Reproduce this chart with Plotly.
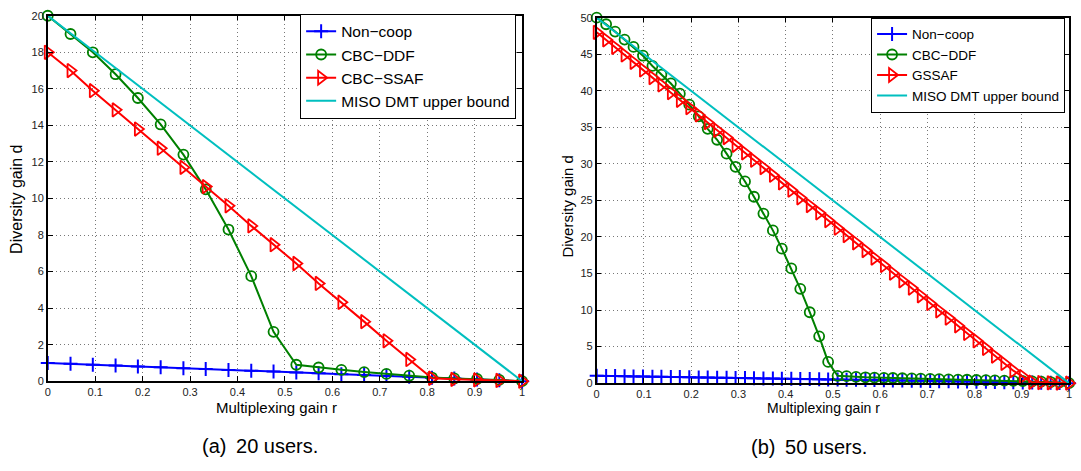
import plotly.graph_objects as go

# ---------------- data: (a) 20 users ----------------
r_a = [0, 0.048, 0.095, 0.143, 0.190, 0.238, 0.286, 0.333, 0.381, 0.429, 0.476,
       0.524, 0.571, 0.619, 0.667, 0.714, 0.762, 0.810, 0.857, 0.905, 0.952, 1.0]
noncoop_a = [1.0, 0.952, 0.905, 0.857, 0.810, 0.762, 0.714, 0.667, 0.619, 0.571, 0.524,
             0.476, 0.429, 0.381, 0.333, 0.286, 0.238, 0.190, 0.143, 0.095, 0.048, 0.0]
ddf_a = [20.0, 19.0, 18.0, 16.8, 15.5, 14.05, 12.4, 10.5, 8.3, 5.75, 2.7,
         0.9, 0.75, 0.62, 0.5, 0.4, 0.3, 0.2, 0.15, 0.12, 0.07, 0.0]
ssaf_a = [18.0, 17.0, 15.9, 14.85, 13.8, 12.75, 11.7, 10.65, 9.6, 8.5, 7.47,
          6.44, 5.35, 4.32, 3.26, 2.21, 1.19, 0.16, 0.1, 0.07, 0.04, 0.0]
ub_r_a = [0, 1]
ub_a = [20, 0]

# ---------------- data: (b) 50 users ----------------
r_b = [0, 0.020, 0.039, 0.059, 0.078, 0.098, 0.118, 0.137, 0.157, 0.176, 0.196,
       0.216, 0.235, 0.255, 0.275, 0.294, 0.314, 0.333, 0.353, 0.373, 0.392,
       0.412, 0.431, 0.451, 0.471, 0.490, 0.510, 0.529, 0.549, 0.569, 0.588,
       0.608, 0.627, 0.647, 0.667, 0.686, 0.706, 0.725, 0.745, 0.765, 0.784,
       0.804, 0.824, 0.843, 0.863, 0.882, 0.902, 0.922, 0.941, 0.961, 0.980, 1.0]
noncoop_b = [1.0, 0.98, 0.961, 0.941, 0.922, 0.902, 0.882, 0.863, 0.843, 0.824, 0.804,
             0.784, 0.765, 0.745, 0.725, 0.706, 0.686, 0.667, 0.647, 0.627, 0.608,
             0.588, 0.569, 0.549, 0.529, 0.51, 0.49, 0.471, 0.451, 0.431, 0.412,
             0.392, 0.373, 0.353, 0.333, 0.314, 0.294, 0.275, 0.255, 0.235, 0.216,
             0.196, 0.176, 0.157, 0.137, 0.118, 0.098, 0.078, 0.059, 0.039, 0.02, 0.0]
ddf_b = [50.0, 49.1, 48.1, 47.0, 46.0, 44.8, 43.4, 42.2, 41.0, 39.6, 38.1,
         36.5, 34.8, 33.3, 31.4, 29.6, 27.6, 25.5, 23.2, 20.9, 18.4,
         15.7, 12.9, 9.7, 6.4, 2.9, 1.0, 0.95, 0.85, 0.8, 0.76,
         0.73, 0.7, 0.67, 0.64, 0.61, 0.58, 0.55, 0.52, 0.49, 0.46,
         0.43, 0.4, 0.37, 0.34, 0.31, 0.28, 0.24, 0.2, 0.15, 0.1, 0.0]
gssaf_b = [48.0, 46.97, 45.94, 44.9, 43.9, 42.85, 41.8, 40.8, 39.75, 38.7, 37.7,
           36.7, 35.65, 34.6, 33.6, 32.55, 31.5, 30.5, 29.5, 28.45, 27.4,
           26.4, 25.35, 24.3, 23.3, 22.25, 21.2, 20.2, 19.2, 18.15, 17.1,
           16.1, 15.05, 14.0, 13.0, 11.95, 10.9, 9.9, 8.9, 7.85, 6.8,
           5.8, 4.75, 3.7, 2.7, 1.7, 0.9, 0.12, 0.08, 0.05, 0.02, 0.0]
ub_r_b = [0, 1]
ub_b = [50, 0]

x_ticks = [0, 0.1, 0.2, 0.3, 0.4, 0.5, 0.6, 0.7, 0.8, 0.9, 1]
x_tick_text = ["0", "0.1", "0.2", "0.3", "0.4", "0.5", "0.6", "0.7", "0.8", "0.9", "1"]
y_ticks_a = [0, 2, 4, 6, 8, 10, 12, 14, 16, 18, 20]
y_ticks_b = [0, 5, 10, 15, 20, 25, 30, 35, 40, 45, 50]

BLUE, GREEN, RED, CYAN = "#0000FF", "#008000", "#FF0000", "#00BFBF"
FONT = "Liberation Sans, Arial, sans-serif"
W, H = 1081, 471

fig = go.Figure()


def add_series(xa, ya, legend, r, nc, ddf, third, third_name, ur, ub):
    fig.add_trace(go.Scatter(x=r, y=nc, name="Non\u2212coop", mode="lines+markers",
                             line=dict(color=BLUE, width=2),
                             marker=dict(symbol="cross-thin-open", size=10,
                                         line=dict(color=BLUE, width=2)),
                             xaxis=xa, yaxis=ya, legend=legend, cliponaxis=False))
    fig.add_trace(go.Scatter(x=r, y=ddf, name="CBC\u2212DDF", mode="lines+markers",
                             line=dict(color=GREEN, width=2),
                             marker=dict(symbol="circle-open", size=10,
                                         line=dict(color=GREEN, width=1.8)),
                             xaxis=xa, yaxis=ya, legend=legend, cliponaxis=False))
    fig.add_trace(go.Scatter(x=r, y=third, name=third_name, mode="lines+markers",
                             line=dict(color=RED, width=2),
                             marker=dict(symbol="triangle-right-open", size=12,
                                         line=dict(color=RED, width=1.8)),
                             xaxis=xa, yaxis=ya, legend=legend, cliponaxis=False))
    fig.add_trace(go.Scatter(x=ur, y=ub, name="MISO DMT upper bound", mode="lines",
                             line=dict(color=CYAN, width=2),
                             xaxis=xa, yaxis=ya, legend=legend, cliponaxis=False))


add_series("x", "y", "legend", r_a, noncoop_a, ddf_a, ssaf_a, "CBC\u2212SSAF", ub_r_a, ub_a)
add_series("x2", "y2", "legend2", r_b, noncoop_b, ddf_b, gssaf_b, "GSSAF", ub_r_b, ub_b)

axis_common = dict(showline=True, linecolor="black", linewidth=1.5, mirror="ticks",
                   ticks="inside", ticklen=5, tickwidth=1, tickcolor="black",
                   showgrid=True, gridcolor="#777777", griddash="1px,3px", gridwidth=1,
                   zeroline=False, tickfont=dict(family=FONT, size=11, color="#222"))

fig.update_layout(
    width=W, height=H, margin=dict(l=0, r=0, t=0, b=0),
    paper_bgcolor="white", plot_bgcolor="white",
    xaxis=dict(domain=[45 / W, 522 / W], range=[0, 1], tickvals=x_ticks,
               ticktext=x_tick_text, anchor="y", **axis_common),
    yaxis=dict(domain=[1 - 385 / H, 1 - 10 / H], range=[0, 20], tickvals=y_ticks_a,
               anchor="x", **axis_common),
    xaxis2=dict(domain=[597 / W, 1072 / W], range=[0, 1], tickvals=x_ticks,
                ticktext=x_tick_text, anchor="y2", **axis_common),
    yaxis2=dict(domain=[1 - 387 / H, 1 - 12 / H], range=[0, 50], tickvals=y_ticks_b,
                anchor="x2", **axis_common),
    legend=dict(x=516 / W, y=1 - 8 / H, xanchor="right", yanchor="top",
                bgcolor="white", bordercolor="black", borderwidth=1,
                font=dict(family=FONT, size=15.5, color="black"), itemwidth=30,
                tracegroupgap=0),
    legend2=dict(x=1068 / W, y=1 - 12 / H, xanchor="right", yanchor="top",
                 bgcolor="white", bordercolor="black", borderwidth=1,
                 font=dict(family=FONT, size=13.5, color="black"), itemwidth=30,
                 tracegroupgap=0),
    showlegend=True,
)

annotations = [
    dict(text="Multiplexing gain r", x=275 / W, y=1 - 412 / H, font=dict(size=15)),
    dict(text="Multiplexing gain r", x=825 / W, y=1 - 413 / H, font=dict(size=14)),
    dict(text="Diversity gain d", x=14 / W, y=1 - 198 / H, textangle=-90, font=dict(size=16)),
    dict(text="Diversity gain d", x=568 / W, y=1 - 205 / H, textangle=-90, font=dict(size=15)),
    dict(text="(a)\u2009 20 users.", x=258 / W, y=1 - 452 / H, font=dict(size=20)),
    dict(text="(b)\u2009 50 users.", x=811 / W, y=1 - 453 / H, font=dict(size=20)),
]
for a in annotations:
    a.update(xref="paper", yref="paper", showarrow=False, xanchor="center", yanchor="middle")
    a["font"].update(family=FONT, color="black")
fig.update_layout(annotations=annotations)

fig.write_html("out.html")
